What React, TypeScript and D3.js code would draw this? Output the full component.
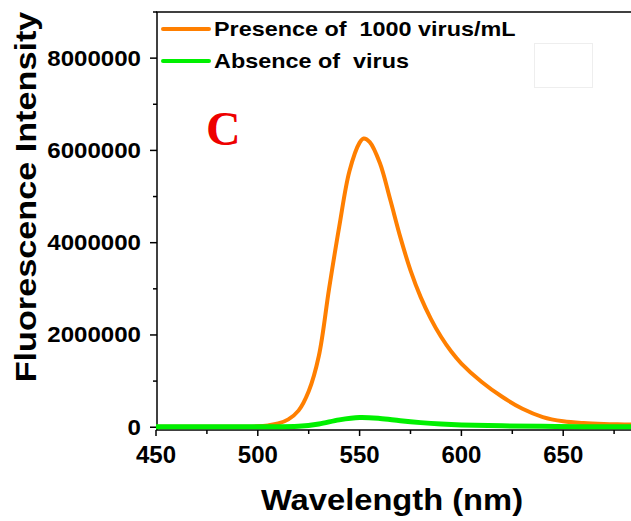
import React, { useRef, useEffect } from "react";
import * as d3 from "d3";

// wavelength (nm) and intensity
const wavelengths = [450, 480, 500, 505, 510, 515, 520, 525, 530, 535, 540, 545, 550, 552, 555, 560, 565, 570, 575, 580, 585, 590, 595, 600, 610, 620, 630, 640, 650, 660, 670, 680, 690, 700];
const presence = [10000, 10000, 20000, 40000, 80000, 170000, 360000, 780000, 1550000, 3000000, 4350000, 5550000, 6170000, 6260000, 6180000, 5720000, 4940000, 4120000, 3400000, 2820000, 2350000, 1960000, 1640000, 1380000, 980000, 660000, 400000, 220000, 130000, 90000, 70000, 60000, 50000, 40000];

const greenWl = [450, 500, 520, 530, 540, 550, 560, 570, 580, 590, 600, 620, 640, 660, 700];
const absence = [10000, 10000, 20000, 70000, 160000, 210000, 190000, 140000, 100000, 70000, 50000, 30000, 20000, 10000, 10000];

const xTicks = [450, 500, 550, 600, 650];
const yTicks = [0, 2000000, 4000000, 6000000, 8000000];
const legendItems = ["Presence of  1000 virus/mL", "Absence of  virus"];
const legendColors = ["#ff7f00", "#00f000"];

const W = 631;
const H = 521;

const App = () => {
  const ref = useRef(null);

  useEffect(() => {
    const svg = d3.select(ref.current);
    svg.selectAll("*").remove();

    const x = d3.scaleLinear().domain([450, 700]).range([156, 665]);
    const y = d3.scaleLinear().domain([-60000, 9000000]).range([430, 12]);
    const font = "Liberation Sans, Arial, sans-serif";

    // stretched bold text helper
    const label = (g, tx, ty, sx, size, anchor, str, rot = 0) =>
      g.append("text")
        .attr("transform", `translate(${tx},${ty}) rotate(${rot}) scale(${sx},1)`)
        .attr("text-anchor", anchor)
        .attr("font-family", font).attr("font-weight", "bold").attr("font-size", size)
        .style("white-space", "pre")
        .text(str);

    // frame: left, bottom, top
    svg.append("line").attr("x1", 157).attr("x2", 157).attr("y1", 12).attr("y2", 430).attr("stroke", "#000").attr("stroke-width", 1.5);
    svg.append("line").attr("x1", 156).attr("x2", W).attr("y1", 430).attr("y2", 430).attr("stroke", "#000").attr("stroke-width", 1.5);
    svg.append("line").attr("x1", 156).attr("x2", W).attr("y1", 12).attr("y2", 12).attr("stroke", "#000").attr("stroke-width", 1.5);

    // x ticks
    const xMinor = d3.range(450, 701, 25);
    svg.append("g").selectAll("line").data(xMinor).enter().append("line")
      .attr("x1", d => x(d)).attr("x2", d => x(d))
      .attr("y1", 430).attr("y2", d => (d % 50 === 0 ? 436 : 434))
      .attr("stroke", "#000").attr("stroke-width", 1.5);
    const xg = svg.append("g");
    xTicks.forEach(d => label(xg, x(d), 463, 1, 24, "middle", String(d)));

    // y ticks
    const yMinor = d3.range(0, 9000001, 1000000);
    svg.append("g").selectAll("line").data(yMinor).enter().append("line")
      .attr("x1", d => (d % 2000000 === 0 ? 150 : 153)).attr("x2", 157)
      .attr("y1", d => y(d)).attr("y2", d => y(d))
      .attr("stroke", "#000").attr("stroke-width", 1.5);
    const yg = svg.append("g");
    yTicks.forEach(d => label(yg, 141, y(d) + 7.5, 1.07, 22.5, "end", String(d)));

    // axis titles
    label(svg, 36, 197, 1.18, 29, "middle", "Fluorescence Intensity", -90);
    label(svg, 392, 510, 1.09, 30, "middle", "Wavelength (nm)");

    // curves
    const line = d3.line().x(d => x(d[0])).y(d => y(d[1])).curve(d3.curveCatmullRom);
    svg.append("path")
      .datum(wavelengths.map((w, i) => [w, presence[i]]))
      .attr("d", line).attr("fill", "none")
      .attr("stroke", legendColors[0]).attr("stroke-width", 4);
    svg.append("path")
      .datum(greenWl.map((w, i) => [w, absence[i]]))
      .attr("d", line).attr("fill", "none")
      .attr("stroke", legendColors[1]).attr("stroke-width", 5);

    // legend
    const lg = svg.append("g");
    legendItems.forEach((t, i) => {
      const ly = 29 + i * 32;
      lg.append("line").attr("x1", 163).attr("x2", 209).attr("y1", ly).attr("y2", ly)
        .attr("stroke", legendColors[i]).attr("stroke-width", 4).attr("stroke-linecap", "round");
      label(lg, 214, ly + 7, 1.17, 20, "start", t);
    });

    // panel letter
    svg.append("text")
      .attr("x", 206).attr("y", 145)
      .attr("font-family", "Liberation Serif, Times New Roman, serif").attr("font-weight", "bold").attr("font-size", 48)
      .attr("fill", "#ee0000")
      .text("C");

    // faint box
    svg.append("rect").attr("x", 534.5).attr("y", 43.5).attr("width", 58).attr("height", 44)
      .attr("fill", "#fff").attr("stroke", "#eeeeee");
  }, []);

  return (
    <div>
      <svg ref={ref} width={W} height={H} style={{ position: "absolute", left: 0, top: 0, background: "#fff" }}></svg>
    </div>
  );
};

export default App;
